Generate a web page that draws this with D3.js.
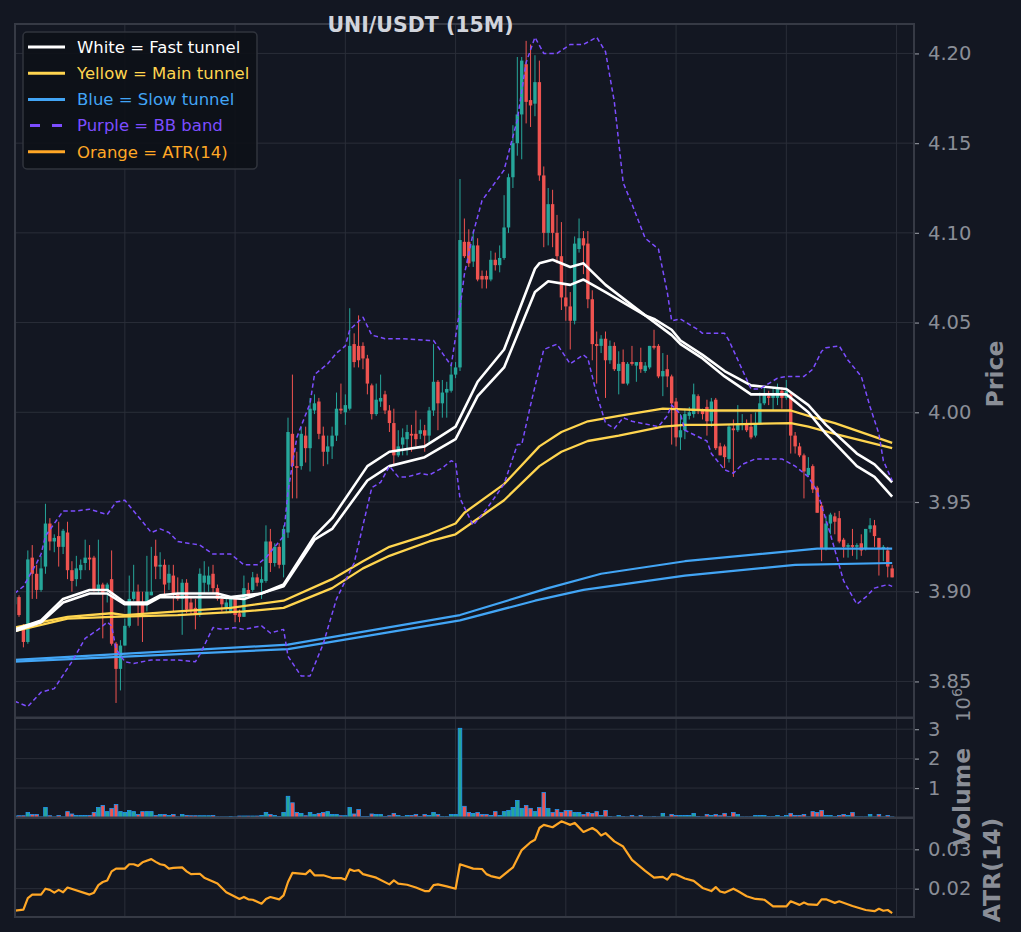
<!DOCTYPE html>
<html>
<head>
<meta charset="utf-8">
<script src="https://cdn.jsdelivr.net/npm/d3@7"></script>
<style>
  body { margin: 0; background: #131722; }
  svg text { font-family: "DejaVu Sans", sans-serif; }
</style>
</head>
<body>
<div id="chart"></div>
<script>
// --- candle data (15M, 200 bars) ---
const opens = [3.893,3.897,3.880,3.872,3.919,3.910,3.901,3.914,3.938,3.928,3.931,3.925,3.933,3.912,3.907,3.912,3.916,3.919,3.919,3.901,
3.904,3.901,3.907,3.871,3.857,3.870,3.881,3.896,3.900,3.894,3.894,3.898,3.920,3.914,3.915,3.905,3.909,3.899,3.896,3.905,
3.894,3.891,3.887,3.905,3.904,3.910,3.902,3.896,3.891,3.889,3.896,3.888,3.886,3.901,3.901,3.908,3.905,3.906,3.928,3.916,
3.925,3.915,3.933,3.988,3.970,3.970,3.987,3.980,4.001,4.006,3.987,3.978,3.981,3.987,4.002,4.000,4.002,4.038,4.037,4.037,
4.030,4.015,3.999,4.006,4.010,4.001,3.994,3.976,3.982,3.985,3.988,3.988,3.988,3.990,3.987,4.001,4.017,4.005,4.011,4.012,
4.021,4.025,4.095,4.095,4.084,4.093,4.076,4.076,4.074,4.085,4.082,4.086,4.103,4.131,4.150,4.166,4.194,4.174,4.172,4.184,
4.132,4.100,4.116,4.100,4.087,4.064,4.059,4.051,4.091,4.097,4.094,4.063,4.038,4.037,4.041,4.029,4.037,4.023,4.028,4.016,
4.028,4.026,4.028,4.023,4.025,4.037,4.037,4.020,4.024,4.020,4.006,3.986,3.990,3.998,3.999,4.009,4.001,4.003,3.995,4.007,
3.981,3.981,3.974,3.991,3.990,3.993,3.994,3.992,3.987,3.994,4.005,4.009,4.008,4.008,4.012,4.008,4.010,3.987,3.981,3.976,
3.965,3.970,3.958,3.948,3.924,3.938,3.942,3.941,3.929,3.925,3.926,3.925,3.927,3.924,3.935,3.937,3.930,3.924,3.923,3.913];
const highs = [3.899,3.898,3.882,3.923,3.926,3.915,3.920,3.949,3.941,3.932,3.939,3.935,3.939,3.917,3.920,3.918,3.929,3.926,3.920,3.929,
3.905,3.905,3.923,3.872,3.873,3.885,3.909,3.915,3.904,3.900,3.920,3.925,3.929,3.922,3.918,3.915,3.915,3.908,3.907,3.907,
3.897,3.896,3.913,3.917,3.914,3.915,3.904,3.897,3.896,3.897,3.897,3.890,3.909,3.905,3.911,3.910,3.914,3.937,3.935,3.927,
3.927,3.937,3.997,4.021,3.978,3.992,3.992,4.008,4.010,4.008,3.992,3.987,3.992,4.011,4.016,4.010,4.058,4.044,4.054,4.039,
4.032,4.016,4.016,4.021,4.012,4.004,4.002,3.990,3.991,3.993,3.993,4.001,3.996,3.993,4.003,4.038,4.018,4.018,4.017,4.027,
4.028,4.130,4.108,4.102,4.101,4.097,4.079,4.079,4.090,4.089,4.093,4.121,4.133,4.160,4.198,4.198,4.207,4.205,4.199,4.196,
4.137,4.125,4.124,4.110,4.106,4.071,4.067,4.098,4.108,4.101,4.101,4.068,4.045,4.043,4.045,4.040,4.039,4.034,4.035,4.028,
4.037,4.028,4.036,4.028,4.037,4.046,4.038,4.033,4.032,4.021,4.008,3.999,4.002,4.003,4.016,4.010,4.002,4.007,4.008,4.008,
3.983,3.982,3.993,3.996,4.004,3.999,3.996,3.999,4.000,4.011,4.014,4.012,4.014,4.016,4.014,4.018,4.011,3.989,3.983,3.977,
3.975,3.971,3.959,3.950,3.942,3.944,3.944,3.945,3.930,3.927,3.935,3.927,3.932,3.935,3.941,3.940,3.930,3.926,3.925,3.915];
const lows = [3.885,3.886,3.869,3.871,3.896,3.896,3.900,3.910,3.923,3.922,3.914,3.921,3.907,3.900,3.903,3.907,3.912,3.912,3.900,3.899,
3.874,3.894,3.870,3.838,3.845,3.870,3.880,3.895,3.881,3.872,3.889,3.898,3.907,3.907,3.897,3.901,3.889,3.895,3.876,3.888,
3.887,3.879,3.886,3.899,3.900,3.899,3.895,3.889,3.888,3.888,3.883,3.883,3.886,3.897,3.900,3.903,3.896,3.905,3.911,3.914,
3.913,3.908,3.930,3.952,3.952,3.968,3.972,3.967,3.999,3.985,3.970,3.971,3.974,3.984,3.999,3.993,4.001,4.025,4.025,4.024,
4.010,3.996,3.998,4.003,3.999,3.989,3.970,3.975,3.976,3.976,3.978,3.981,3.985,3.978,3.983,3.998,3.990,3.997,3.997,4.011,
4.019,4.023,4.086,4.081,4.081,4.073,4.069,4.069,4.073,4.079,4.078,4.085,4.100,4.125,4.143,4.141,4.161,4.159,4.165,4.129,
4.092,4.093,4.092,4.083,4.057,4.051,4.035,4.049,4.089,4.077,4.058,4.029,4.016,4.033,4.008,4.027,4.023,4.010,4.016,4.015,
4.026,4.017,4.022,4.022,4.024,4.035,4.019,4.009,4.014,3.982,3.981,3.979,3.985,3.996,3.997,3.999,3.996,3.987,3.992,3.979,
3.976,3.969,3.972,3.964,3.989,3.990,3.989,3.985,3.986,3.993,4.004,4.004,4.001,4.004,4.002,4.007,3.977,3.977,3.975,3.952,
3.964,3.955,3.944,3.917,3.923,3.932,3.932,3.927,3.919,3.919,3.920,3.918,3.920,3.923,3.933,3.925,3.909,3.917,3.908,3.908];
const closes = [3.897,3.887,3.872,3.918,3.910,3.901,3.913,3.938,3.928,3.930,3.925,3.934,3.912,3.906,3.913,3.915,3.919,3.918,3.901,3.904,
3.899,3.904,3.871,3.857,3.870,3.881,3.896,3.900,3.893,3.888,3.900,3.900,3.914,3.915,3.904,3.910,3.899,3.896,3.905,3.890,
3.890,3.888,3.910,3.909,3.909,3.902,3.896,3.893,3.894,3.896,3.887,3.886,3.902,3.898,3.908,3.905,3.907,3.928,3.916,3.925,
3.915,3.935,3.989,3.970,3.969,3.988,3.980,4.002,4.005,3.988,3.978,3.981,3.987,4.002,4.001,4.004,4.037,4.028,4.029,4.030,
4.016,3.999,4.007,4.008,4.001,3.994,3.976,3.981,3.986,3.989,3.987,3.985,3.990,3.987,4.001,4.017,4.005,4.011,4.013,4.021,
4.025,4.096,4.087,4.083,4.093,4.074,4.074,4.074,4.085,4.082,4.086,4.103,4.131,4.150,4.166,4.196,4.173,4.171,4.184,4.132,
4.100,4.116,4.100,4.087,4.064,4.059,4.051,4.094,4.097,4.093,4.063,4.038,4.037,4.041,4.029,4.037,4.024,4.027,4.016,4.027,
4.027,4.028,4.024,4.026,4.037,4.036,4.020,4.023,4.020,4.005,3.986,3.990,3.999,4.000,4.010,4.001,3.999,3.995,4.006,3.980,
3.976,3.975,3.992,3.990,3.994,3.994,3.990,3.986,3.994,4.005,4.010,4.008,4.010,4.013,4.008,4.012,3.987,3.981,3.976,3.967,
3.969,3.957,3.944,3.924,3.938,3.943,3.939,3.928,3.925,3.926,3.925,3.926,3.923,3.935,3.937,3.931,3.924,3.925,3.914,3.908];
// volume in millions
const volumes = [0.05,0.06,0.06,0.17,0.10,0.10,0.02,0.34,0.06,0.02,0.07,0.02,0.20,0.12,0.07,0.07,0.07,0.07,0.17,0.34,
0.41,0.20,0.31,0.44,0.20,0.17,0.24,0.20,0.10,0.20,0.20,0.20,0.07,0.10,0.10,0.07,0.10,0.02,0.10,0.07,
0.06,0.06,0.06,0.06,0.06,0.07,0.02,0.02,0.02,0.03,0.02,0.05,0.05,0.05,0.05,0.05,0.07,0.17,0.10,0.07,
0.03,0.17,0.72,0.50,0.17,0.14,0.06,0.17,0.10,0.14,0.17,0.20,0.10,0.10,0.06,0.06,0.34,0.12,0.27,0.03,
0.03,0.12,0.10,0.10,0.03,0.06,0.14,0.07,0.03,0.07,0.07,0.10,0.03,0.10,0.07,0.17,0.10,0.03,0.03,0.10,
0.10,3.03,0.38,0.17,0.14,0.17,0.10,0.10,0.07,0.20,0.07,0.20,0.24,0.34,0.58,0.31,0.41,0.31,0.20,0.34,
0.85,0.31,0.17,0.27,0.17,0.24,0.24,0.17,0.17,0.10,0.17,0.14,0.20,0.07,0.24,0.03,0.02,0.07,0.03,0.02,
0.07,0.02,0.07,0.02,0.02,0.03,0.02,0.14,0.02,0.10,0.07,0.07,0.07,0.07,0.14,0.03,0.02,0.10,0.07,0.10,
0.06,0.14,0.03,0.17,0.10,0.02,0.02,0.02,0.07,0.07,0.07,0.03,0.03,0.07,0.03,0.07,0.14,0.07,0.07,0.10,
0.02,0.20,0.17,0.24,0.07,0.07,0.03,0.07,0.10,0.07,0.17,0.02,0.02,0.02,0.10,0.02,0.10,0.02,0.07,0.02];
// ATR(14) vertices [bar, value]
const atrPoints = [[0,0.0144],[2,0.0147],[3,0.0176],[4,0.0185],[6,0.0185],[7,0.0200],[8,0.0197],[9,0.0190],[10,0.0197],[11,0.0191],
[12,0.0203],[17,0.0185],[18,0.0190],[19,0.0209],[20,0.0217],[21,0.0221],[22,0.0244],[23,0.0251],[25,0.0251],[26,0.0262],
[27,0.0262],[28,0.0258],[29,0.0267],[31,0.0275],[32,0.0268],[33,0.0262],[34,0.0260],[35,0.0251],[36,0.0253],[38,0.0254],
[39,0.0244],[40,0.0237],[42,0.0238],[43,0.0228],[46,0.0213],[48,0.0191],[51,0.0174],[52,0.0179],[53,0.0173],[54,0.0172],
[56,0.0162],[57,0.0174],[58,0.0179],[60,0.0173],[61,0.0183],[62,0.0217],[63,0.0240],[66,0.0237],[67,0.0247],[68,0.0234],
[70,0.0234],[72,0.0227],[74,0.0227],[75,0.0223],[76,0.0249],[77,0.0245],[78,0.0247],[79,0.0237],[82,0.0228],[85,0.0211],
[86,0.0221],[87,0.0213],[89,0.0210],[91,0.0203],[93,0.0194],[94,0.0194],[95,0.0209],[96,0.0211],[98,0.0206],[100,0.0200],
[101,0.0262],[104,0.0251],[106,0.0250],[107,0.0237],[108,0.0232],[110,0.0227],[113,0.0254],[115,0.0298],[117,0.0318],[118,0.0324],
[119,0.0354],[120,0.0362],[122,0.0356],[124,0.0371],[126,0.0362],[127,0.0367],[129,0.0344],[131,0.0354],[132,0.0347],[133,0.0335],
[134,0.0341],[136,0.0320],[138,0.0307],[140,0.0273],[143,0.0245],[145,0.0228],[147,0.0230],[148,0.0223],[149,0.0237],[150,0.0236],
[152,0.0226],[154,0.0220],[156,0.0202],[158,0.0194],[159,0.0204],[160,0.0193],[161,0.0190],[163,0.0200],[164,0.0194],[166,0.0181],
[168,0.0174],[170,0.0172],[172,0.0155],[175,0.0155],[176,0.0168],[178,0.0159],[179,0.0165],[180,0.0160],[182,0.0159],[183,0.0173],
[184,0.0173],[186,0.0164],[187,0.0168],[190,0.0156],[193,0.0146],[195,0.0143],[196,0.0149],[197,0.0144],[198,0.0146],[199,0.0138]];
// tunnels [bar, price]
const fastUpper = [[0,3.879],[6,3.884],[11,3.896],[17,3.901],[21,3.901],[25,3.894],[30,3.894],[33,3.898],[37,3.899],[46,3.899],
[49,3.897],[56,3.899],[61,3.904],[68,3.931],[72,3.941],[80,3.970],[85,3.978],[93,3.981],[100,3.992],[105,4.017],[111,4.035],
[118,4.080],[119,4.083],[122,4.085],[126,4.081],[129,4.083],[134,4.071],[143,4.054],[145,4.052],[149,4.046],[151,4.040],
[156,4.032],[161,4.023],[167,4.015],[175,4.013],[180,4.004],[184,3.993],[191,3.977],[195,3.971],[199,3.961]];
const fastLower = [[0,3.878],[6,3.883],[11,3.894],[17,3.899],[21,3.899],[25,3.893],[30,3.893],[33,3.897],[46,3.897],[52,3.896],
[61,3.903],[68,3.929],[72,3.935],[80,3.962],[85,3.970],[93,3.975],[100,3.985],[105,4.009],[111,4.025],[118,4.067],[121,4.073],
[126,4.071],[129,4.074],[134,4.067],[143,4.054],[149,4.043],[151,4.038],[156,4.030],[161,4.020],[167,4.010],[175,4.010],
[180,4.000],[184,3.988],[191,3.970],[195,3.964],[199,3.953]];
const mainUpper = [[0,3.880],[6,3.883],[12,3.886],[22,3.888],[25,3.887],[37,3.889],[49,3.891],[61,3.895],[72,3.907],[79,3.917],
[85,3.925],[94,3.932],[100,3.938],[102,3.944],[111,3.960],[119,3.981],[124,3.989],[130,3.995],[137,3.998],[147,4.002],
[158,4.001],[176,4.001],[180,3.998],[186,3.994],[199,3.983]];
const mainLower = [[0,3.878],[12,3.885],[22,3.886],[37,3.887],[52,3.889],[61,3.891],[72,3.902],[79,3.913],[85,3.920],[94,3.928],
[100,3.932],[111,3.951],[119,3.970],[124,3.978],[130,3.984],[137,3.987],[147,3.992],[152,3.993],[158,3.993],[176,3.994],
[180,3.992],[186,3.988],[199,3.980]];
const slowUpper = [[0,3.862],[62,3.8705],[101,3.887],[121,3.902],[133,3.910],[152,3.917],[182,3.924],[199,3.924]];
const slowLower = [[0,3.861],[62,3.868],[101,3.884],[118,3.895],[129,3.901],[152,3.909],[177,3.915],[199,3.916]];
const bbUpper = [[0,3.899],[2,3.903],[5,3.916],[6,3.921],[7,3.931],[11,3.945],[14,3.945],[17,3.946],[21,3.943],[23,3.950],
[25,3.951],[31,3.933],[33,3.935],[35,3.933],[37,3.928],[42,3.926],[45,3.921],[49,3.921],[52,3.915],[55,3.915],[57,3.919],
[59,3.925],[61,3.931],[62,3.956],[64,3.986],[67,4.005],[68,4.021],[71,4.027],[73,4.033],[75,4.037],[76,4.046],[79,4.053],
[81,4.043],[84,4.041],[88,4.041],[94,4.040],[95,4.040],[97,4.033],[99,4.026],[101,4.058],[102,4.077],[104,4.100],[106,4.118],
[111,4.135],[114,4.163],[116,4.195],[118,4.209],[120,4.200],[123,4.200],[126,4.205],[129,4.205],[132,4.209],[134,4.201],
[136,4.173],[138,4.128],[140,4.116],[143,4.097],[145,4.093],[146,4.091],[148,4.067],[149,4.051],[151,4.052],[155,4.046],
[156,4.044],[161,4.044],[162,4.040],[167,4.013],[169,4.013],[173,4.019],[175,4.020],[179,4.020],[181,4.024],[183,4.034],
[184,4.036],[187,4.037],[189,4.029],[192,4.020],[194,4.003],[196,3.988],[197,3.973],[199,3.962]];
const bbLower = [[0,3.839],[1,3.838],[3,3.836],[6,3.844],[9,3.846],[13,3.861],[16,3.874],[19,3.879],[21,3.883],[22,3.881],
[23,3.868],[25,3.861],[27,3.860],[31,3.862],[37,3.862],[41,3.861],[42,3.865],[45,3.880],[47,3.879],[50,3.880],[52,3.879],
[56,3.881],[58,3.877],[61,3.879],[62,3.864],[65,3.853],[67,3.853],[70,3.871],[73,3.896],[77,3.916],[79,3.937],[81,3.958],
[83,3.961],[85,3.970],[87,3.964],[89,3.964],[92,3.966],[94,3.965],[97,3.969],[99,3.973],[100,3.972],[101,3.952],[104,3.937],
[107,3.946],[111,3.960],[114,3.982],[115,3.982],[117,4.004],[120,4.035],[123,4.038],[126,4.027],[129,4.032],[130,4.030],
[132,4.010],[134,3.994],[136,3.991],[138,3.997],[140,3.995],[146,3.992],[148,3.998],[149,4.004],[151,3.999],[152,3.990],
[157,3.984],[158,3.977],[161,3.968],[163,3.966],[165,3.971],[168,3.974],[174,3.974],[177,3.970],[180,3.964],[182,3.956],
[185,3.932],[188,3.906],[191,3.893],[193,3.897],[195,3.902],[198,3.904],[199,3.903]];

const priceTicks = [3.85, 3.90, 3.95, 4.00, 4.05, 4.10, 4.15, 4.20];
const volTicks = [1, 2, 3];
const atrTicks = [0.02, 0.03];
const xTicks = [25, 50, 75, 100, 125, 150, 175, 200];
const legendItems = [
  { label: "White = Fast tunnel", color: "#ffffff", dash: null },
  { label: "Yellow = Main tunnel", color: "#ffd54f", dash: null },
  { label: "Blue = Slow tunnel", color: "#42a5f5", dash: null },
  { label: "Purple = BB band", color: "#7c4dff", dash: "10,12" },
  { label: "Orange = ATR(14)", color: "#ffa726", dash: null }
];

const W = 1021, H = 932, L = 15, R = 914;
const UP = "#26a69a", DOWN = "#ef5350", GRID = "#2a2e39", BORDER = "#363a45", TXT = "#8a8e97";

const svg = d3.select("#chart").append("svg").attr("width", W).attr("height", H);
svg.append("rect").attr("width", W).attr("height", H).attr("fill", "#131722");

const x = d3.scaleLinear().domain([0, 204]).range([14.6, 914.2]);
const yP = d3.scaleLinear().domain([3.8299, 4.2164]).range([717.5, 24]);
const yV = d3.scaleLinear().domain([0, 3.38]).range([817.5, 718]);
const yA = d3.scaleLinear().domain([0.01282, 0.03794]).range([917, 818]);

const panels = [
  { id: "p", top: 24, bottom: 717.5, y: yP, ticks: priceTicks, fmt: d3.format(".2f") },
  { id: "v", top: 718, bottom: 817.5, y: yV, ticks: volTicks, fmt: d3.format("d") },
  { id: "a", top: 818, bottom: 917, y: yA, ticks: atrTicks, fmt: d3.format(".2f") }
];

const defs = svg.append("defs");
const layers = {};
panels.forEach(p => {
  defs.append("clipPath").attr("id", "clip-" + p.id)
    .append("rect").attr("x", L).attr("y", p.top).attr("width", R - L).attr("height", p.bottom - p.top);
  const g = svg.append("g").attr("clip-path", `url(#clip-${p.id})`);
  // grid
  g.selectAll("line.vg").data(xTicks).join("line")
    .attr("x1", d => x(d)).attr("x2", d => x(d))
    .attr("y1", p.top).attr("y2", p.bottom)
    .attr("stroke", GRID).attr("stroke-width", 1);
  g.selectAll("line.hg").data(p.ticks).join("line")
    .attr("x1", L).attr("x2", R)
    .attr("y1", d => p.y(d)).attr("y2", d => p.y(d))
    .attr("stroke", GRID).attr("stroke-width", 1);
  layers[p.id] = g;

  const ax = svg.append("g").attr("transform", `translate(${R},0)`)
    .call(d3.axisRight(p.y).tickValues(p.ticks).tickFormat(p.fmt).tickSize(5).tickPadding(9));
  ax.select(".domain").remove();
  ax.selectAll("line").attr("stroke", TXT).attr("stroke-width", 1.2);
  ax.selectAll("text").attr("fill", TXT).style("font-size", "19.5px").style("font-family", "DejaVu Sans");
});

const bars = d3.range(closes.length);

// candles
const cg = layers.p.append("g");
cg.selectAll("line").data(bars).join("line")
  .attr("x1", i => x(i)).attr("x2", i => x(i))
  .attr("y1", i => yP(highs[i])).attr("y2", i => yP(lows[i]))
  .attr("stroke", i => closes[i] >= opens[i] ? UP : DOWN).attr("stroke-width", 1);
cg.selectAll("rect").data(bars).join("rect")
  .attr("x", i => x(i) - 1.7).attr("width", 3.4)
  .attr("y", i => yP(Math.max(opens[i], closes[i])))
  .attr("height", i => Math.max(1, Math.abs(yP(opens[i]) - yP(closes[i]))))
  .attr("fill", i => closes[i] >= opens[i] ? UP : DOWN);

// tunnels and bands
const line = yS => d3.line().x(d => x(d[0])).y(d => yS(d[1]));
const drawLine = (data, color, w, dash) => layers.p.append("path").datum(data)
  .attr("d", line(yP)).attr("fill", "none").attr("stroke", color).attr("stroke-width", w)
  .attr("stroke-dasharray", dash).attr("stroke-linejoin", "round");
drawLine(slowUpper, "#42a5f5", 2.2, null);
drawLine(slowLower, "#42a5f5", 2.2, null);
drawLine(mainUpper, "#ffd54f", 2.3, null);
drawLine(mainLower, "#ffd54f", 2.3, null);
drawLine(fastUpper, "#ffffff", 2.6, null);
drawLine(fastLower, "#ffffff", 2.6, null);
drawLine(bbUpper, "#7c4dff", 1.5, "4.5,3");
drawLine(bbLower, "#7c4dff", 1.5, "4.5,3");

// volume
layers.v.selectAll("rect").data(bars).join("rect")
  .attr("x", i => x(i) - 1.8).attr("width", 3.6)
  .attr("y", i => yV(volumes[i])).attr("height", i => yV(0) - yV(volumes[i]))
  .attr("fill", i => closes[i] >= opens[i] ? UP : DOWN)
  .attr("stroke", "#2196f3").attr("stroke-width", 0.8);

// ATR
layers.a.append("path").datum(atrPoints)
  .attr("d", line(yA)).attr("fill", "none").attr("stroke", "#ffa726").attr("stroke-width", 2.2)
  .attr("stroke-linejoin", "round");

// panel borders
panels.forEach(p => {
  svg.append("rect").attr("x", L).attr("y", p.top).attr("width", R - L).attr("height", p.bottom - p.top)
    .attr("fill", "none").attr("stroke", BORDER).attr("stroke-width", 2);
});

// title
svg.append("text").attr("x", 420.5).attr("y", 32).attr("text-anchor", "middle")
  .attr("fill", "#d1d4dc").style("font-size", "20.5px").style("font-weight", "bold")
  .text("UNI/USDT (15M)");

// axis labels
const ylab = (txt, cx, cy) => svg.append("text")
  .attr("transform", `translate(${cx},${cy}) rotate(-90)`).attr("text-anchor", "middle")
  .attr("fill", TXT).style("font-size", "23.5px").style("font-weight", "bold").text(txt);
ylab("Price", 1003, 374);
ylab("Volume", 970, 797);
ylab("ATR(14)", 1000, 870);

// offset text for volume axis
const off = svg.append("text").attr("transform", "translate(970,705) rotate(-90)")
  .attr("text-anchor", "middle").attr("fill", TXT).style("font-size", "19.5px");
off.append("tspan").text("10");
off.append("tspan").attr("dy", -8).style("font-size", "14px").text("6");

// legend
const lg = svg.append("g").attr("transform", "translate(23,32)");
lg.append("rect").attr("width", 234).attr("height", 137).attr("rx", 4)
  .attr("fill", "#0d1117").attr("fill-opacity", 0.9).attr("stroke", "#30343d").attr("stroke-width", 1.5);
legendItems.forEach((d, k) => {
  const yy = 15 + k * 26.2;
  lg.append("line").attr("x1", d.dash ? 7 : 5).attr("x2", 42).attr("y1", yy).attr("y2", yy)
    .attr("stroke", d.color).attr("stroke-width", 3).attr("stroke-dasharray", d.dash);
  lg.append("text").attr("x", 54).attr("y", yy).attr("dy", "0.35em")
    .attr("fill", d.color).style("font-size", "16.5px").text(d.label);
});
</script>
</body>
</html>
